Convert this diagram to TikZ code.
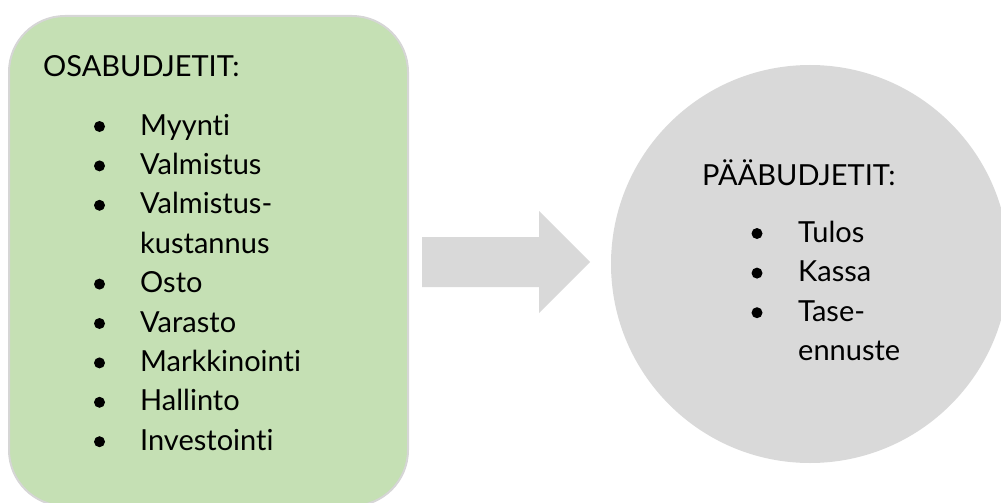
\documentclass[tikz,border=0pt]{standalone}
\usepackage{fontspec}
\setmainfont{Lato}[Ligatures=NoCommon]
\usepackage{xcolor}
\usetikzlibrary{positioning}
\definecolor{osac}{RGB}{197,224,180}
\definecolor{edgec}{RGB}{214,214,214}
\definecolor{paac}{RGB}{217,217,217}
\tikzset{
  osabox/.style={draw=edgec,fill=osac,line width=2pt,rounded corners=56pt,minimum width=399pt,minimum height=490pt,inner sep=0pt},
  paacirc/.style={circle,fill=paac,minimum size=398pt,inner sep=0pt},
  txt/.style={anchor=base west,inner sep=0pt,font=\fontsize{29}{35}\selectfont},
  dot/.style={fill=black}
}
\begin{document}
\begin{tikzpicture}[x=1pt,y=-1pt]
\useasboundingbox (0,0) rectangle (1001,503);
\clip (0,0) rectangle (1001,503);
% the two blocks
\node[osabox] (osa) at (208.5,261) {};
\node[paacirc] (paa) at (810,264) {};
% arrow between them
\coordinate (arrS) at (422,262);
\coordinate (arrT) at (590,262);
\fill[paac] (arrS) ++(0,-25) -- ++(117,0) -- ++(0,-26) -- (arrT) -- ++(-51,51) -- ++(0,-26) -- ++(-117,0) -- cycle;
% left list
\node[txt] (osahd) at (43,77) {OSABUDJETIT:};
\foreach \t [count=\i from 0] in {Myynti,Valmistus,Valmistus-,kustannus,Osto,Varasto,Markkinointi,Hallinto,Investointi}{
  \node[txt] (osa\i) at (140,135+39.4*\i) {\t};
}
\foreach \i in {0,1,2,4,5,6,7,8}{ \fill[dot] (99.5,126.5+39.4*\i) circle (5.5); }
% right list
\node[txt] (paahd) at (702,185) {PÄÄBUDJETIT:};
\foreach \t [count=\i from 0] in {Tulos,Kassa,Tase-,ennuste}{
  \node[txt] (paa\i) at (798,242+39.6*\i) {\t};
}
\foreach \i in {0,1,2}{ \fill[dot] (757,233.5+39.6*\i) circle (5.5); }
\end{tikzpicture}
\end{document}
